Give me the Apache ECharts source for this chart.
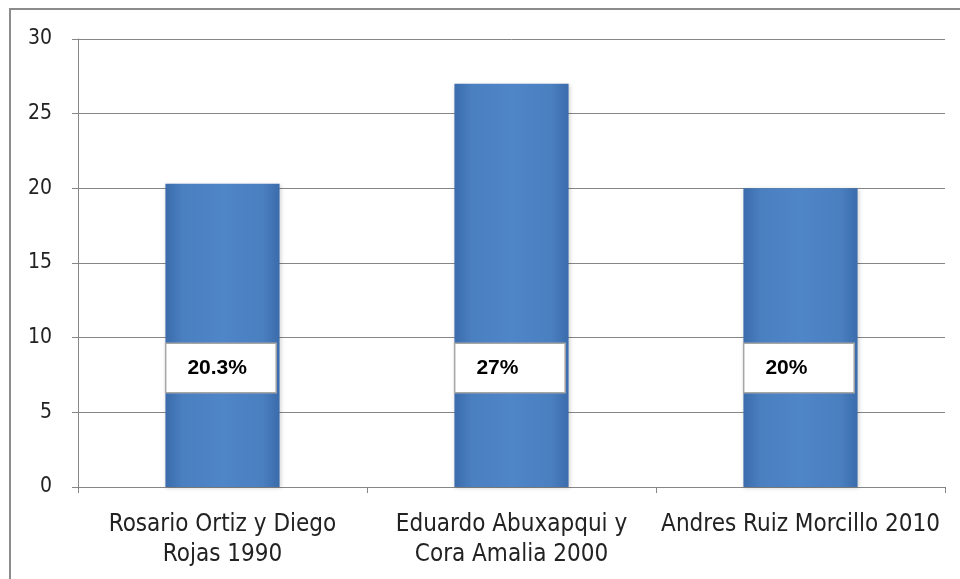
<!DOCTYPE html>
<html>
<head>
<meta charset="utf-8">
<script src="https://cdn.jsdelivr.net/npm/echarts@6/dist/echarts.min.js"></script>
<style>
  html, body { margin: 0; padding: 0; background: #ffffff; }
  #chart { width: 960px; height: 579px; }
</style>
</head>
<body>
<div id="chart"></div>
<script>
// Categories (line breaks as they wrap under each bar)
const categories = [
  'Rosario Ortiz y Diego\nRojas 1990',
  'Eduardo Abuxapqui y\nCora Amalia 2000',
  'Andres Ruiz Morcillo 2010'
];
// Percentage per category
const values = [20.3, 27, 20];
// Value axis settings
const yMin = 0;
const yMax = 30;
const yStep = 5;

const FONT = '"Liberation Sans Narrow", "DejaVu Sans Condensed", "Liberation Sans", sans-serif';

const chart = echarts.init(document.getElementById('chart'), null, { renderer: 'canvas' });

const barColor = new echarts.graphic.LinearGradient(0, 0, 1, 0, [
  { offset: 0, color: '#3b6cab' },
  { offset: 0.15, color: '#4a7fc0' },
  { offset: 0.5, color: '#4f86c8' },
  { offset: 0.85, color: '#4a7fc0' },
  { offset: 1, color: '#3b6cab' }
]);

chart.setOption({
  animation: false,
  backgroundColor: '#ffffff',
  graphic: [{
    type: 'rect',
    silent: true,
    z: -1,
    shape: { x: 10, y: 9, width: 1000, height: 700 },
    style: { fill: 'none', stroke: '#8c8c8c', lineWidth: 2 }
  }],
  grid: { left: 78, right: 15, top: 39, bottom: 92, containLabel: false },
  xAxis: {
    type: 'category',
    data: categories,
    axisLine: { show: true, lineStyle: { color: '#868686', width: 1 } },
    axisTick: { show: true, alignWithLabel: false, length: 6, lineStyle: { color: '#868686' } },
    axisLabel: {
      interval: 0,
      margin: 23,
      color: '#222222',
      fontFamily: FONT,
      fontSize: 24,
      lineHeight: 30
    },
    splitLine: { show: false }
  },
  yAxis: {
    type: 'value',
    min: yMin,
    max: yMax,
    interval: yStep,
    axisLine: { show: true, lineStyle: { color: '#868686', width: 1 } },
    axisTick: { show: true, length: 6, lineStyle: { color: '#868686' } },
    axisLabel: {
      margin: 26,
      color: '#222222',
      fontFamily: FONT,
      fontSize: 21
    },
    splitLine: { show: true, lineStyle: { color: '#868686', width: 1 } }
  },
  series: [{
    type: 'bar',
    data: values,
    barWidth: '39.5%',
    itemStyle: {
      color: barColor,
      shadowColor: 'rgba(0,0,0,0.18)',
      shadowBlur: 4,
      shadowOffsetX: 1,
      shadowOffsetY: 1
    },
    label: {
      show: true,
      position: 'insideBottomLeft',
      distance: 0,
      offset: [1, -95],
      formatter: function (p) { return p.value + '%'; },
      color: '#000000',
      fontFamily: '"Liberation Sans", "DejaVu Sans", sans-serif',
      fontWeight: 'bold',
      fontSize: 21,
      lineHeight: 20,
      width: 68,
      align: 'left',
      backgroundColor: '#ffffff',
      borderColor: '#a6a6a6',
      borderWidth: 1.5,
      padding: [14, 20, 14, 21]
    }
  }]
});
</script>
</body>
</html>
